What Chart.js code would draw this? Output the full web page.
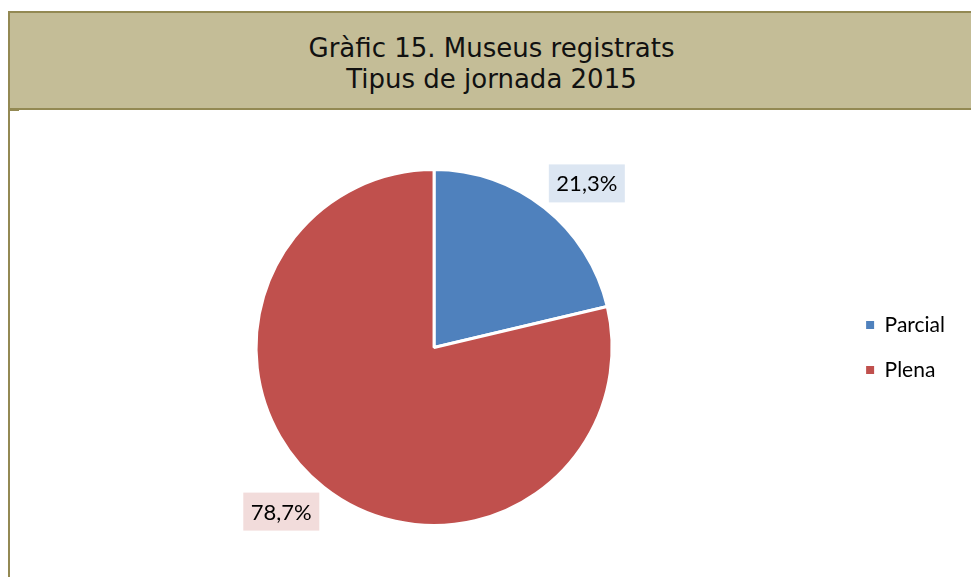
<!DOCTYPE html>
<html>
<head>
<meta charset="utf-8">
<script src="https://cdn.jsdelivr.net/npm/chart.js@4.4.1/dist/chart.umd.min.js"></script>
<style>
  html, body { margin: 0; padding: 0; background: #fff; }
  body { width: 971px; height: 577px; position: relative; overflow: hidden; }
  #band {
    position: absolute; left: 8px; top: 11px; width: 963px; height: 95px;
    background: #C4BD97; border-top: 2px solid #938953; border-left: 2px solid #938953;
    border-bottom: 2px solid #938953; box-sizing: content-box;
    font-family: "DejaVu Sans", Verdana, sans-serif; font-size: 26px; line-height: 31px;
    color: #111; text-align: center;
  }
  #band div { padding-top: 20px; }
  #stub { position: absolute; left: 10px; top: 110px; width: 9px; height: 1px; background: #938953; }
  #side { position: absolute; left: 8px; top: 110px; width: 2px; height: 467px; background: #938953; }
  #wrap { position: absolute; left: 10px; top: 111px; width: 961px; height: 466px; }
</style>
</head>
<body>
<div id="band"><div>Gràfic 15. Museus registrats<br>Tipus de jornada 2015</div></div>
<div id="stub"></div>
<div id="side"></div>
<div id="wrap"><canvas id="pieChart"></canvas></div>
<script>
const categories = ['Parcial', 'Plena'];
const shares = [21.3, 78.7];
const sliceColors = ['#4F81BD', '#C0504D'];
const labelFills = ['#DCE6F2', '#F2DCDB'];

// outside-end labels with a tinted box, anchored at the box corner nearest the slice
const outsideLabels = {
  id: 'outsideLabels',
  afterDatasetsDraw(chart) {
    const ctx = chart.ctx;
    const meta = chart.getDatasetMeta(0);
    meta.data.forEach((arc, i) => {
      const { x, y, startAngle, endAngle, outerRadius } = arc.getProps(['x', 'y', 'startAngle', 'endAngle', 'outerRadius'], true);
      const mid = (startAngle + endAngle) / 2;
      const d = outerRadius + 7;
      const ax = x + Math.cos(mid) * d;
      const ay = y + Math.sin(mid) * d;
      const w = 76, h = 38;
      const left = Math.cos(mid) >= 0 ? ax : ax - w;
      const top = Math.sin(mid) >= 0 ? ay : ay - h;
      ctx.save();
      ctx.fillStyle = labelFills[i];
      ctx.fillRect(left, top, w, h);
      ctx.fillStyle = '#000';
      ctx.font = '22px Lato, "Liberation Sans", sans-serif';
      ctx.textAlign = 'center';
      ctx.textBaseline = 'middle';
      ctx.fillText(shares[i].toFixed(1).replace('.', ',') + '%', left + w / 2, top + h / 2 + 1);
      ctx.restore();
    });
  }
};

new Chart(document.getElementById('pieChart'), {
  type: 'pie',
  data: {
    labels: categories,
    datasets: [{
      data: shares,
      backgroundColor: sliceColors,
      borderColor: '#fff',
      borderWidth: 3,
      radius: 178
    }]
  },
  options: {
    responsive: true,
    maintainAspectRatio: false,
    animation: false,
    layout: { padding: { top: 7, bottom: 0, left: 16, right: 16 } },
    plugins: {
      tooltip: { enabled: false },
      legend: {
        position: 'right',
        labels: {
          boxWidth: 8,
          boxHeight: 8,
          padding: 24,
          color: '#000',
          font: { family: 'Lato, "Liberation Sans", sans-serif', size: 21 },
          generateLabels: chart => Chart.overrides.pie.plugins.legend.labels.generateLabels(chart)
            .map(l => ({ ...l, lineWidth: 0 }))
        }
      }
    }
  },
  plugins: [outsideLabels]
});
</script>
</body>
</html>
